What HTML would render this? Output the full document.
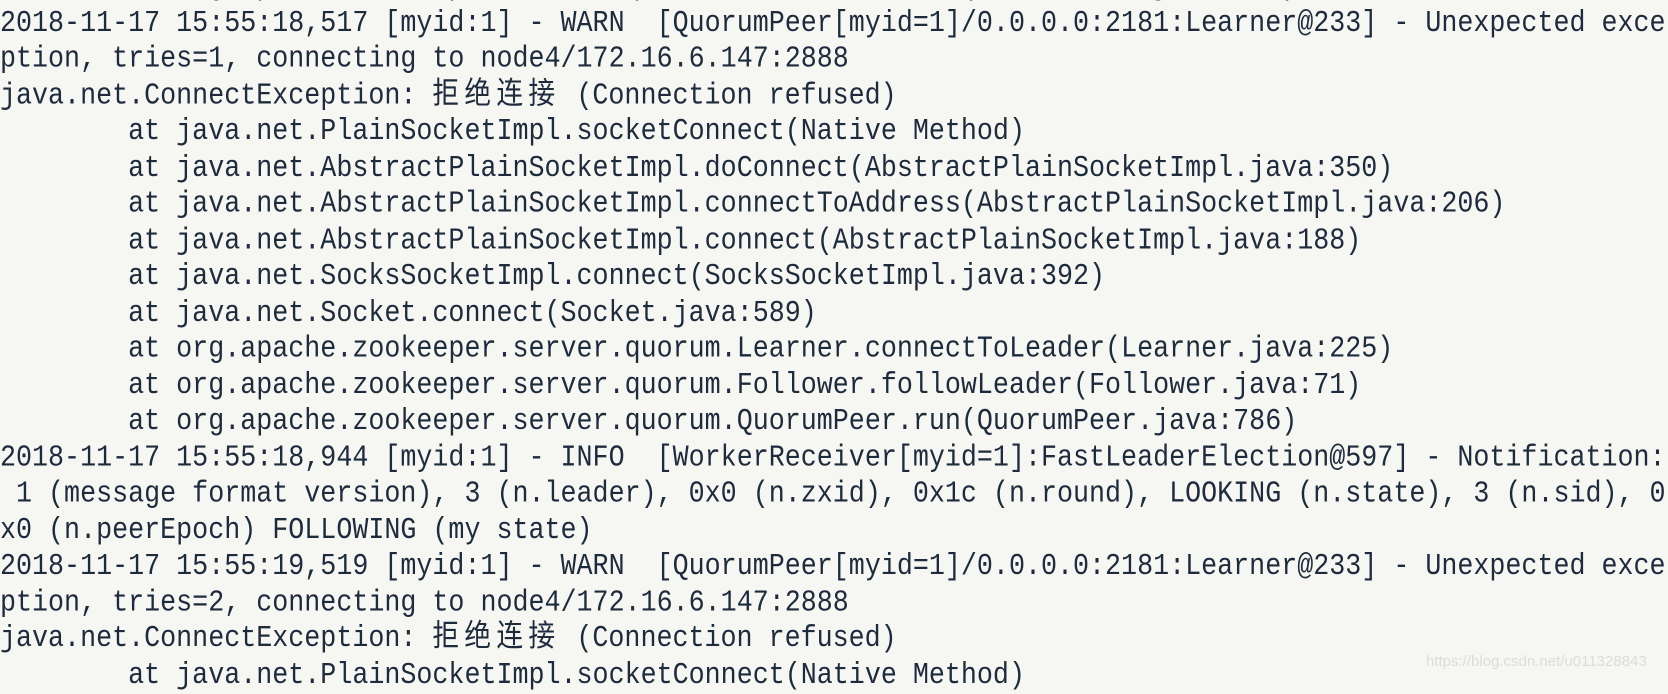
<!DOCTYPE html>
<html><head><meta charset="utf-8"><style>
html,body{margin:0;padding:0;width:1668px;height:682px;overflow:hidden;background:#f6f6f3;}
pre{position:absolute;left:0;top:-30.5px;margin:0;font-family:"Liberation Mono","Noto Sans CJK SC",monospace;font-size:26.7px;line-height:31.5px;color:#1e2b3c;white-space:pre;transform:scaleY(1.15);transform-origin:0 0;}
.c{letter-spacing:5.3px;}
.wm{position:absolute;left:1426px;top:653px;font-family:"Liberation Sans",sans-serif;font-size:15px;color:#dcdcdc;}
</style></head><body>
<pre>        at org.apache.zookeeper.server.quorum.QuorumPeer.run(QuorumPeer.java:786)
2018-11-17 15:55:18,517 [myid:1] - WARN  [QuorumPeer[myid=1]/0.0.0.0:2181:Learner@233] - Unexpected exce
ption, tries=1, connecting to node4/172.16.6.147:2888
java.net.ConnectException: <span class="c">拒绝连接</span> (Connection refused)
        at java.net.PlainSocketImpl.socketConnect(Native Method)
        at java.net.AbstractPlainSocketImpl.doConnect(AbstractPlainSocketImpl.java:350)
        at java.net.AbstractPlainSocketImpl.connectToAddress(AbstractPlainSocketImpl.java:206)
        at java.net.AbstractPlainSocketImpl.connect(AbstractPlainSocketImpl.java:188)
        at java.net.SocksSocketImpl.connect(SocksSocketImpl.java:392)
        at java.net.Socket.connect(Socket.java:589)
        at org.apache.zookeeper.server.quorum.Learner.connectToLeader(Learner.java:225)
        at org.apache.zookeeper.server.quorum.Follower.followLeader(Follower.java:71)
        at org.apache.zookeeper.server.quorum.QuorumPeer.run(QuorumPeer.java:786)
2018-11-17 15:55:18,944 [myid:1] - INFO  [WorkerReceiver[myid=1]:FastLeaderElection@597] - Notification:
 1 (message format version), 3 (n.leader), 0x0 (n.zxid), 0x1c (n.round), LOOKING (n.state), 3 (n.sid), 0
x0 (n.peerEpoch) FOLLOWING (my state)
2018-11-17 15:55:19,519 [myid:1] - WARN  [QuorumPeer[myid=1]/0.0.0.0:2181:Learner@233] - Unexpected exce
ption, tries=2, connecting to node4/172.16.6.147:2888
java.net.ConnectException: <span class="c">拒绝连接</span> (Connection refused)
        at java.net.PlainSocketImpl.socketConnect(Native Method)</pre>
<div class="wm">https://blog.csdn.net/u011328843</div>
</body></html>
